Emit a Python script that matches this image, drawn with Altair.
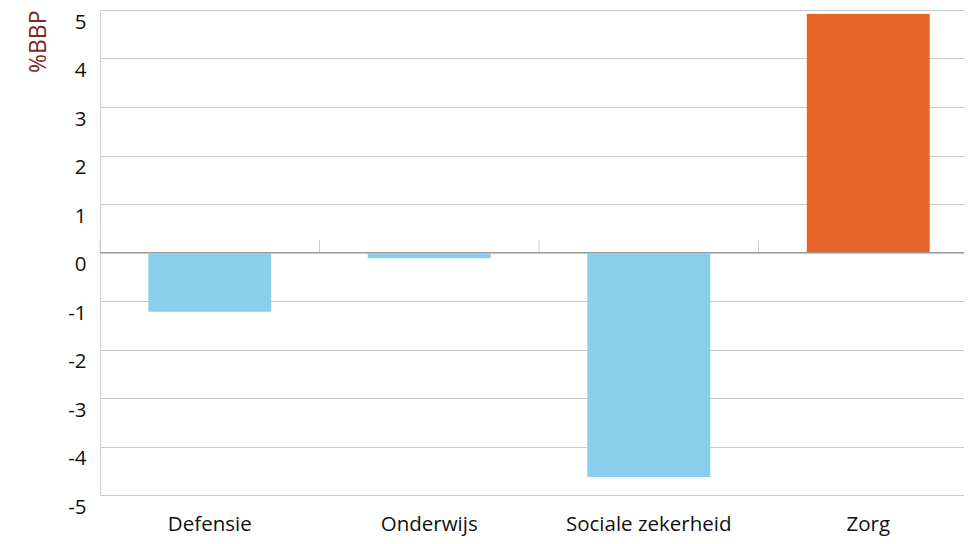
import altair as alt
import pandas as pd

categories = ["Defensie", "Onderwijs", "Sociale zekerheid", "Zorg"]
values = [-1.22, -0.12, -4.63, 4.92]
colors = ["#8ACEEE", "#8ACEEE", "#8ACEEE", "#E66526"]
y_ticks = [-5, -4, -3, -2, -1, 0, 1, 2, 3, 4, 5]

df = pd.DataFrame({"cat": categories, "val": values, "col": colors, "zero": 0, "tick": 0.25})

FONT = "Open Sans"

xscale = alt.Scale(domain=categories, paddingInner=0.44, paddingOuter=0.22, range=[0, 878])
xscale_ticks = alt.Scale(domain=categories, paddingInner=0, paddingOuter=0, range=[0, 878])
yscale = alt.Scale(domain=[-5, 5], nice=False)

bars = alt.Chart(df).mark_bar().encode(
    x=alt.X("cat:N", scale=xscale, sort=categories,
            axis=alt.Axis(title=None, domain=False, ticks=False, labelAngle=0,
                          labelPadding=19, labelFontSize=20.5, labelFont=FONT,
                          labelColor="#111111", grid=False)),
    y=alt.Y("val:Q", scale=yscale,
            axis=alt.Axis(values=y_ticks, title="%BBP", titleFontSize=23,
                          titleFont=FONT, titleFontWeight="normal",
                          titleColor="#7B2A1E", titleAngle=-90, titleAlign="right",
                          titleBaseline="middle", titleX=-62, titleY=0,
                          labelFontSize=20.5, labelFont=FONT, labelColor="#111111",
                          labelBaseline="top", labelOffset=2, labelPadding=14,
                          labelExpr="replace(datum.label, '\u2212', '-')",
                          ticks=False, domain=True, domainColor="#d0d0d0",
                          grid=True, gridColor="#c8c8c8", gridWidth=1)),
    y2=alt.Y2("zero:Q"),
    color=alt.Color("col:N", scale=None),
)

zero_line = alt.Chart(df).mark_rule(color="#999999", strokeWidth=1.2).encode(
    y=alt.Y("zero:Q", scale=yscale)
)

ticks = alt.Chart(df).mark_rule(color="#cccccc", strokeWidth=1).encode(
    x=alt.X("cat:N", scale=xscale_ticks, sort=categories, bandPosition=0, axis=None),
    y=alt.Y("zero:Q", scale=yscale),
    y2=alt.Y2("tick:Q"),
)

chart = alt.layer(bars, ticks, zero_line).resolve_scale(x="independent").properties(
    width=864, height=485,
    autosize=alt.AutoSizeParams(type="none"),
    padding={"left": 92, "top": 2, "right": 0, "bottom": 41},
).configure_view(stroke=None).configure(background="white")

chart.save("out.html", embed_options={"renderer": "svg", "actions": False})
